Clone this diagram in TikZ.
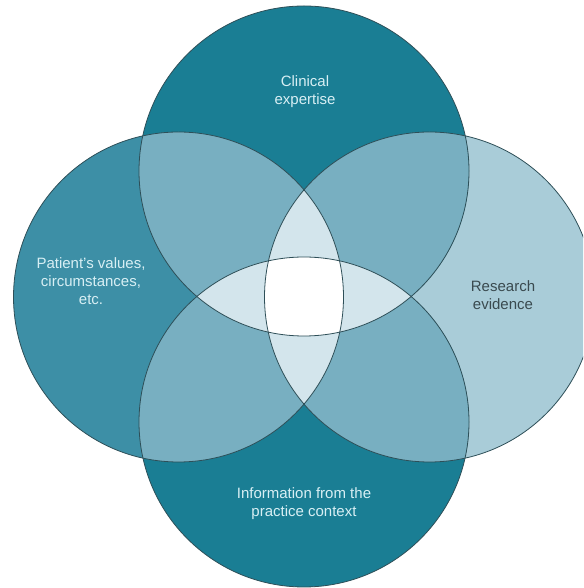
\documentclass[tikz,border=0pt]{standalone}
\usepackage{fontspec}
\setmainfont{Liberation Sans}
\usepackage{xcolor}

\definecolor{tealdark}{HTML}{1A7E94}
\definecolor{tealmid}{HTML}{3D8FA6}
\definecolor{teallight}{HTML}{A9CCD8}
\definecolor{pairfill}{HTML}{78AFC1}
\definecolor{triplefill}{HTML}{D3E5EC}
\definecolor{rim}{HTML}{2E4F58}
\definecolor{labellight}{HTML}{D8EFF4}
\definecolor{labeldark}{HTML}{3A4A4F}

\begin{document}
\begin{tikzpicture}[x=1pt,y=1pt,
  vennlabel/.style={align=center,font=\fontsize{15}{18}\selectfont}]

\useasboundingbox (0,0) rectangle (583,588);
\clip (0,0) rectangle (583,588);

%Kreise
\newcommand\topcircle{(304,417) circle (165pt)}
\newcommand\botcircle{(304,166) circle (165pt)}
\newcommand\leftcircle{(178.5,291) circle (165pt)}
\newcommand\rightcircle{(429.5,291) circle (165pt)}

\fill[tealmid] \leftcircle;
\fill[teallight] \rightcircle;
\fill[tealdark] \topcircle;
\fill[tealdark] \botcircle;

%Schnitt von zwei Kreisen
\begin{scope}
\clip \topcircle;
\fill[pairfill] \leftcircle;
\fill[pairfill] \rightcircle;
\end{scope}
\begin{scope}
\clip \botcircle;
\fill[pairfill] \leftcircle;
\fill[pairfill] \rightcircle;
\end{scope}

%Schnitt von drei Kreisen
\begin{scope}
\clip \topcircle;
\fill[triplefill] \botcircle;
\end{scope}
\begin{scope}
\clip \leftcircle;
\fill[triplefill] \rightcircle;
\end{scope}

%Mitte
\begin{scope}
\clip \topcircle;
\clip \botcircle;
\clip \leftcircle;
\fill[white] \rightcircle;
\end{scope}

\draw[rim, line width=0.8pt] \leftcircle;
\draw[rim, line width=0.8pt] \rightcircle;
\draw[rim, line width=0.8pt] \topcircle;
\draw[rim, line width=0.8pt] \botcircle;

\node[vennlabel, text=labellight] (clinical) at (305,496) {Clinical\\expertise};
\node[vennlabel, text=labellight] (patient) at (91,307) {Patient's values,\\circumstances,\\etc.};
\node[vennlabel, text=labeldark] (research) at (503,293) {Research\\evidence};
\node[vennlabel, text=labellight] (practice) at (304,84) {Information from the\\practice context};

\end{tikzpicture}
\end{document}
